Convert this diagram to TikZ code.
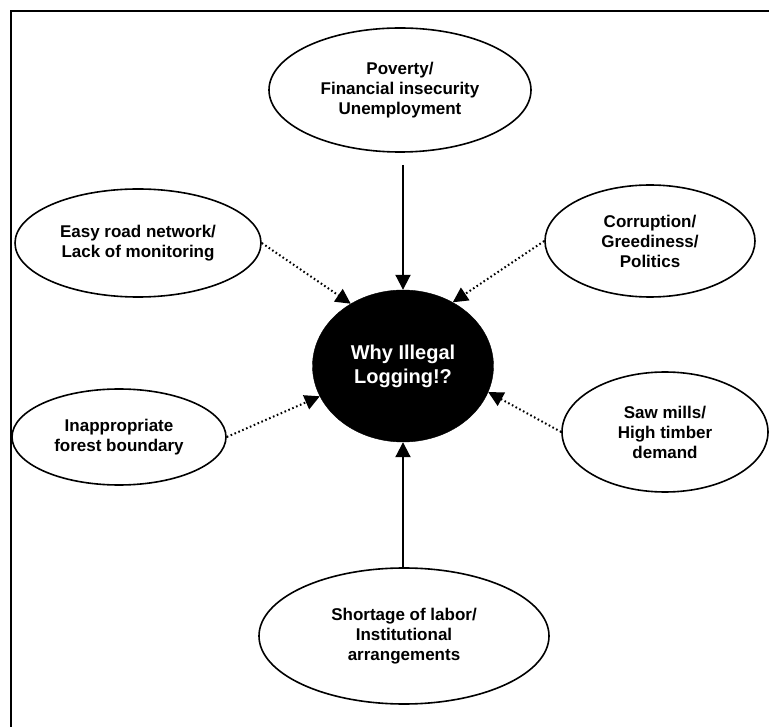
\documentclass[tikz,border=0pt]{standalone}
\usepackage{fontspec}
\setmainfont{Liberation Sans}
\usetikzlibrary{shapes.geometric,arrows.meta}
\begin{document}
\begin{tikzpicture}[x=1pt,y=-1pt,
  cause/.style={draw=black, line width=1.6pt, ellipse, inner sep=0pt, align=center,
    font=\fontsize{17}{20}\selectfont\bfseries},
  core/.style={fill=black, draw=black, ellipse, inner sep=0pt, align=center, text=white,
    font=\fontsize{20}{24}\selectfont\bfseries},
  strong/.style={line width=2pt, -{Triangle[length=15pt,width=15pt]}},
  weak/.style={line width=2pt, dash pattern=on 1.6pt off 2.6pt, -{Triangle[length=15pt,width=15pt]}},
  frameline/.style={line width=2.2pt}]
\useasboundingbox (0,0) rectangle (769,727);
\draw[frameline] (11,730) -- (11,11) -- (772,11);

\node[cause, minimum width=262pt, minimum height=124pt] (pov) at (400,90) {Poverty/\\Financial insecurity\\Unemployment};
\node[cause, minimum width=246pt, minimum height=108pt] (easy) at (138,243) {Easy road network/\\Lack of monitoring};
\node[cause, minimum width=210pt, minimum height=112pt] (corr) at (650,241) {Corruption/\\Greediness/\\Politics};
\node[core, minimum width=181pt, minimum height=152pt] (why) at (403,366) {Why Illegal\\Logging!?};
\node[cause, minimum width=214pt, minimum height=96pt] (inapp) at (119,437) {Inappropriate\\forest boundary};
\node[cause, minimum width=206pt, minimum height=120pt] (saw) at (665,432) {Saw mills/\\High timber\\demand};
\node[cause, minimum width=290pt, minimum height=136pt] (short) at (404,636) {Shortage of labor/\\Institutional\\arrangements};

\draw[strong, shorten <=12pt] (pov.south -| why.north) -- (why.north);
\draw[strong] (short.north -| why.south) -- (why.south);
\draw[weak] (easy.east) -- (why.130);
\draw[weak] (corr.west) -- (why.52);
\draw[weak] (inapp.east) -- (why.200);
\draw[weak] (saw.west) -- (why.-17);
\end{tikzpicture}
\end{document}
